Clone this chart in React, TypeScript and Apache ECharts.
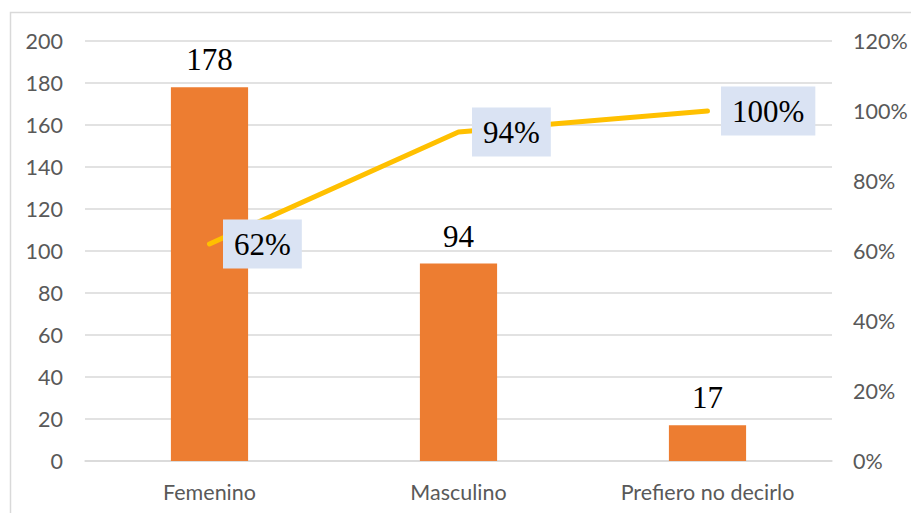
import React, { useEffect, useRef } from "react";
import * as echarts from "echarts";

const categories = ["Femenino", "Masculino", "Prefiero no decirlo"];
const counts = [178, 94, 17];
const cumulative = [0.62, 0.94, 1.0];
const leftTicks = { min: 0, max: 200, interval: 20 };
const rightTicks = { min: 0, max: 1.2, interval: 0.2 };

export default function App() {
  const ref = useRef<HTMLDivElement>(null);
  useEffect(() => {
    document.body.style.margin = "0";
    if (!ref.current) return;
    const chart = echarts.init(ref.current, null, { renderer: "svg" });
    const axisFont = { color: "#595959", fontSize: 21.5, fontFamily: "Lato" };
    chart.setOption({
      animation: false,
      backgroundColor: "#ffffff",
      graphic: [
        {
          type: "rect",
          shape: { x: 10.5, y: 12.5, width: 920, height: 520 },
          style: { fill: "none", stroke: "#D9D9D9", lineWidth: 1.5 },
          silent: true,
        },
      ],
      grid: { left: 85, right: 79, top: 41, bottom: 52, containLabel: false },
      xAxis: {
        type: "category",
        data: categories,
        axisLine: { lineStyle: { color: "#D9D9D9", width: 1.5 } },
        axisTick: { show: false },
        axisLabel: { ...axisFont, margin: 20 },
      },
      yAxis: [
        {
          type: "value",
          ...leftTicks,
          axisLine: { show: false },
          axisTick: { show: false },
          splitLine: { lineStyle: { color: "#D9D9D9", width: 1.5 } },
          axisLabel: { ...axisFont, margin: 22 },
        },
        {
          type: "value",
          ...rightTicks,
          position: "right",
          axisLine: { show: false },
          axisTick: { show: false },
          splitLine: { show: false },
          axisLabel: {
            ...axisFont,
            margin: 21,
            formatter: (v: number) => Math.round(v * 100) + "%",
          },
        },
      ],
      series: [
        {
          type: "bar",
          data: counts,
          barWidth: "31%",
          itemStyle: { color: "#ED7D31" },
          label: {
            show: true,
            position: "top",
            distance: 12,
            color: "#000000",
            fontSize: 31,
            fontFamily: "Liberation Serif",
          },
        },
        {
          type: "line",
          yAxisIndex: 1,
          data: cumulative,
          showSymbol: true,
          symbol: "circle",
          symbolSize: 1,
          lineStyle: { color: "#FFC000", width: 5, cap: "round", join: "round" },
          itemStyle: { color: "#FFC000" },
          label: {
            show: true,
            position: "right",
            distance: 13,
            color: "#000000",
            fontSize: 31,
            fontFamily: "Liberation Serif",
            backgroundColor: "#DAE3F3",
            padding: [9, 11, 9, 11],
            formatter: (p: any) => Math.round(p.value * 100) + "%",
          },
        },
      ],
    });
    return () => chart.dispose();
  }, []);
  return <div ref={ref} style={{ width: 911, height: 513 }} />;
}
